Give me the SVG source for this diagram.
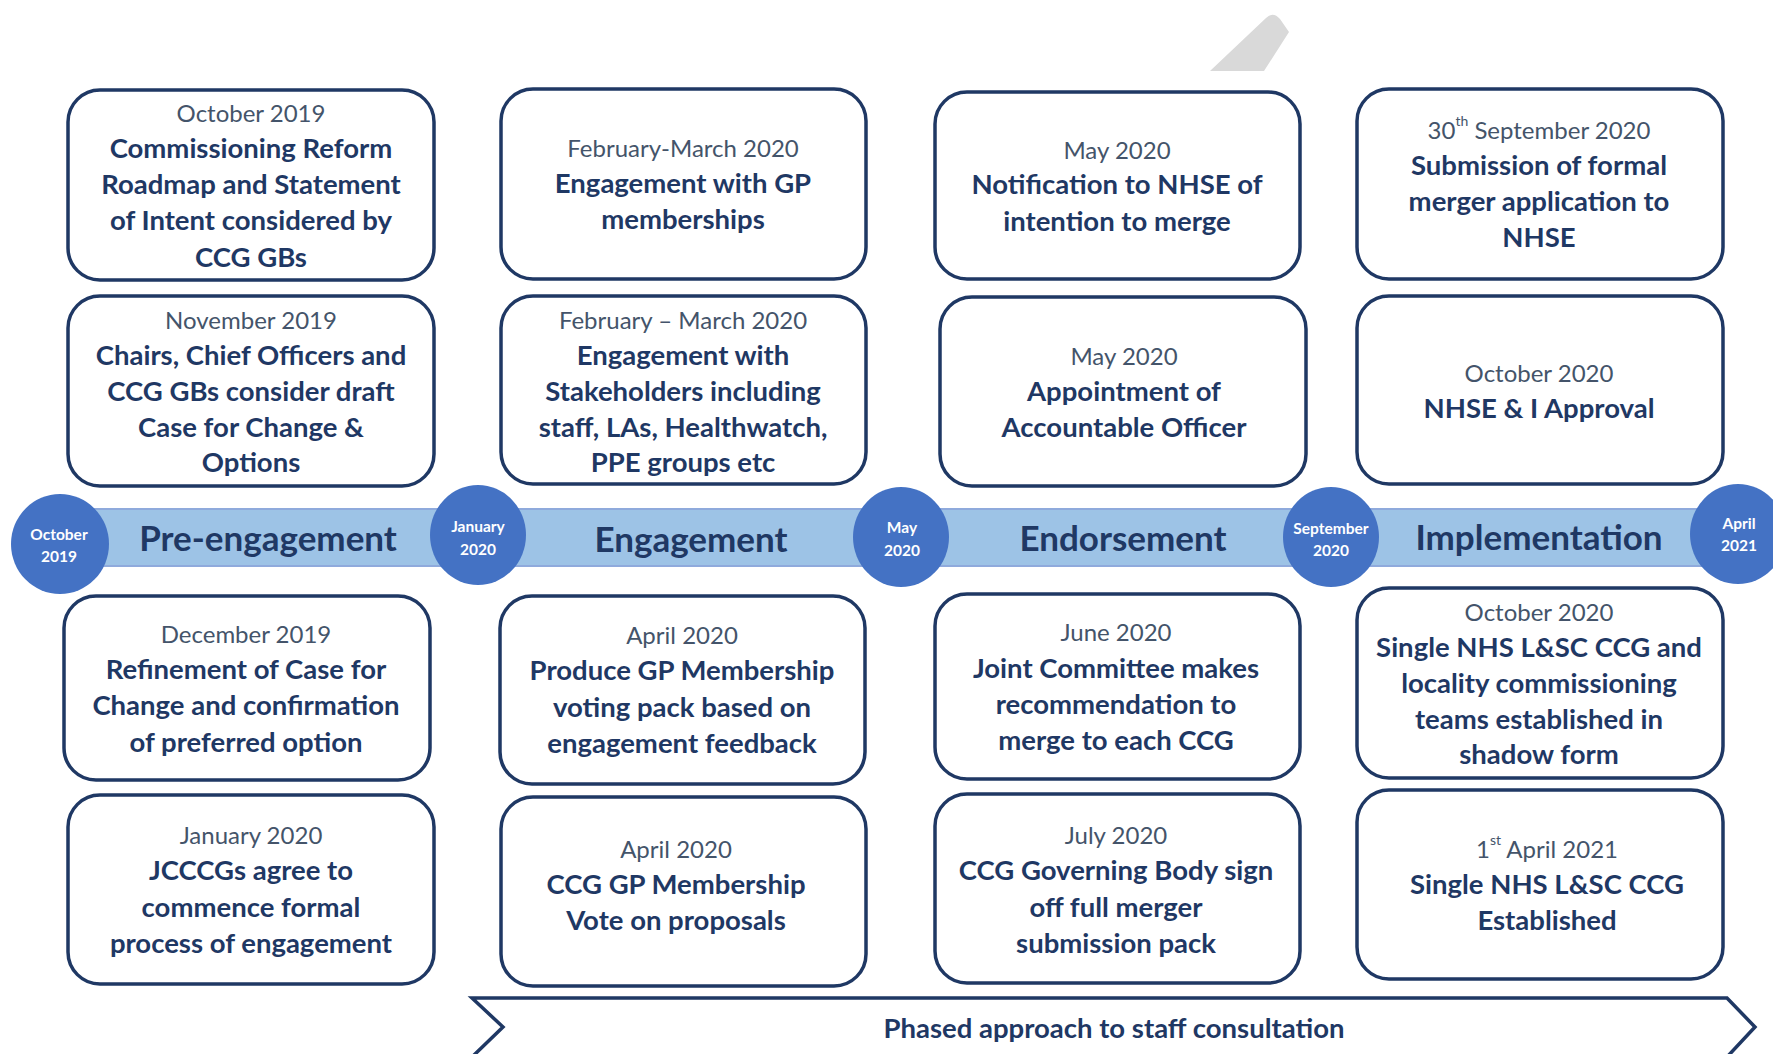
<svg xmlns="http://www.w3.org/2000/svg" width="1773" height="1054" viewBox="0 0 1773 1054">
<style>
.box{fill:#fff;stroke:#1F3864;stroke-width:3.5}
.t{font-family:Lato,"Liberation Sans",sans-serif;text-anchor:middle;dominant-baseline:central}
.d{font-size:24px;fill:#44546A;font-weight:400}
.b{font-size:27.5px;fill:#1F3864;font-weight:700}
.ph{font-size:35px;fill:#1F3864;font-weight:700}
.c{font-size:15.5px;fill:#fff;font-weight:700}
.circ{fill:#4472C4}
</style>
<rect width="1773" height="1054" fill="#fff"/>
<path d="M1210,71 L1266,18 Q1273,11 1280,19 L1289,32 L1264,71 Z" fill="#D9D9D9"/>

<g id="timeline">
<rect x="60" y="509" width="1678" height="57" fill="#9DC3E6" stroke="#8FAADC" stroke-width="2"/>
<text class="t ph" x="268" y="537">Pre-engagement</text>
<text class="t ph" x="691" y="538">Engagement</text>
<text class="t ph" x="1123" y="537">Endorsement</text>
<text class="t ph" x="1539" y="536">Implementation</text>
</g>

<g id="m-oct2019"><ellipse class="circ" cx="60" cy="544" rx="49" ry="50"/><text class="t c" x="59" y="534">October</text><text class="t c" x="59" y="556">2019</text></g>
<g id="m-jan2020"><ellipse class="circ" cx="478" cy="535" rx="48" ry="50"/><text class="t c" x="478" y="526">January</text><text class="t c" x="478" y="549">2020</text></g>
<g id="m-may2020"><ellipse class="circ" cx="901" cy="537" rx="48" ry="50"/><text class="t c" x="902" y="527">May</text><text class="t c" x="902" y="550">2020</text></g>
<g id="m-sep2020"><ellipse class="circ" cx="1331" cy="537" rx="48" ry="50"/><text class="t c" x="1331" y="528">September</text><text class="t c" x="1331" y="550">2020</text></g>
<g id="m-apr2021"><ellipse class="circ" cx="1738" cy="534" rx="48" ry="50"/><text class="t c" x="1739" y="523">April</text><text class="t c" x="1739" y="545">2021</text></g>

<g id="r1c1"><rect class="box" x="68" y="90" width="366" height="190" rx="32"/>
<text class="t d" x="251" y="112">October 2019</text>
<text class="t b" x="251" y="147">Commissioning  Reform</text>
<text class="t b" x="251" y="183">Roadmap and Statement</text>
<text class="t b" x="251" y="219">of Intent considered by</text>
<text class="t b" x="251" y="256">CCG GBs</text></g>

<g id="r1c2"><rect class="box" x="501" y="89" width="365" height="190" rx="32"/>
<text class="t d" x="683" y="147">February-March 2020</text>
<text class="t b" x="683" y="182">Engagement with GP</text>
<text class="t b" x="683" y="218">memberships</text></g>

<g id="r1c3"><rect class="box" x="935" y="92" width="365" height="187" rx="32"/>
<text class="t d" x="1117" y="149">May 2020</text>
<text class="t b" x="1117" y="183">Notification  to NHSE of</text>
<text class="t b" x="1117" y="220">intention to merge</text></g>

<g id="r1c4"><rect class="box" x="1357" y="89" width="366" height="190" rx="32"/>
<text class="t d" x="1539" y="129">30<tspan font-size="14" baseline-shift="super">th</tspan> September 2020</text>
<text class="t b" x="1539" y="164">Submission  of formal</text>
<text class="t b" x="1539" y="200">merger application  to</text>
<text class="t b" x="1539" y="236">NHSE</text></g>

<g id="r2c1"><rect class="box" x="68" y="296" width="366" height="190" rx="32"/>
<text class="t d" x="251" y="319">November 2019</text>
<text class="t b" x="251" y="354">Chairs, Chief Officers and</text>
<text class="t b" x="251" y="390">CCG GBs consider draft</text>
<text class="t b" x="251" y="426">Case for Change &amp;</text>
<text class="t b" x="251" y="461">Options</text></g>

<g id="r2c2"><rect class="box" x="501" y="296" width="365" height="188" rx="32"/>
<text class="t d" x="683" y="319">February – March 2020</text>
<text class="t b" x="683" y="354">Engagement with</text>
<text class="t b" x="683" y="390">Stakeholders including</text>
<text class="t b" x="683" y="426">staff, LAs, Healthwatch,</text>
<text class="t b" x="683" y="461">PPE groups etc</text></g>

<g id="r2c3"><rect class="box" x="940" y="297" width="366" height="189" rx="32"/>
<text class="t d" x="1124" y="355">May 2020</text>
<text class="t b" x="1124" y="390">Appointment  of</text>
<text class="t b" x="1124" y="426">Accountable  Officer</text></g>

<g id="r2c4"><rect class="box" x="1357" y="296" width="366" height="188" rx="32"/>
<text class="t d" x="1539" y="372">October 2020</text>
<text class="t b" x="1539" y="407">NHSE &amp; I Approval</text></g>

<g id="r3c1"><rect class="box" x="64" y="596" width="366" height="184" rx="32"/>
<text class="t d" x="246" y="633">December 2019</text>
<text class="t b" x="246" y="668">Refinement of Case for</text>
<text class="t b" x="246" y="704">Change and confirmation</text>
<text class="t b" x="246" y="741">of preferred option</text></g>

<g id="r3c2"><rect class="box" x="500" y="596" width="365" height="188" rx="32"/>
<text class="t d" x="682" y="634">April 2020</text>
<text class="t b" x="682" y="669">Produce GP Membership</text>
<text class="t b" x="682" y="706">voting pack based on</text>
<text class="t b" x="682" y="742">engagement feedback</text></g>

<g id="r3c3"><rect class="box" x="935" y="594" width="365" height="185" rx="32"/>
<text class="t d" x="1116" y="631">June 2020</text>
<text class="t b" x="1116" y="667">Joint Committee makes</text>
<text class="t b" x="1116" y="703">recommendation  to</text>
<text class="t b" x="1116" y="739">merge to each CCG</text></g>

<g id="r3c4"><rect class="box" x="1357" y="588" width="366" height="190" rx="32"/>
<text class="t d" x="1539" y="611">October 2020</text>
<text class="t b" x="1539" y="646">Single NHS L&amp;SC CCG and</text>
<text class="t b" x="1539" y="682">locality commissioning</text>
<text class="t b" x="1539" y="718">teams established in</text>
<text class="t b" x="1539" y="753">shadow form</text></g>

<g id="r4c1"><rect class="box" x="68" y="795" width="366" height="189" rx="32"/>
<text class="t d" x="251" y="834">January 2020</text>
<text class="t b" x="251" y="869">JCCCGs agree to</text>
<text class="t b" x="251" y="906">commence formal</text>
<text class="t b" x="251" y="942">process of engagement</text></g>

<g id="r4c2"><rect class="box" x="501" y="797" width="365" height="189" rx="32"/>
<text class="t d" x="676" y="848">April 2020</text>
<text class="t b" x="676" y="883">CCG GP Membership</text>
<text class="t b" x="676" y="919">Vote on proposals</text></g>

<g id="r4c3"><rect class="box" x="935" y="794" width="365" height="189" rx="32"/>
<text class="t d" x="1116" y="834">July 2020</text>
<text class="t b" x="1116" y="869">CCG Governing  Body sign</text>
<text class="t b" x="1116" y="906">off full merger</text>
<text class="t b" x="1116" y="942">submission  pack</text></g>

<g id="r4c4"><rect class="box" x="1357" y="790" width="366" height="189" rx="32"/>
<text class="t d" x="1547" y="848">1<tspan font-size="14" baseline-shift="super">st</tspan> April 2021</text>
<text class="t b" x="1547" y="883">Single NHS L&amp;SC CCG</text>
<text class="t b" x="1547" y="919">Established</text></g>

<g id="consultation">
<path d="M472,998 L1727,998 L1755,1027 L1727,1057 L472,1057 L503,1027 Z" fill="#fff" stroke="#1F3864" stroke-width="3.5"/>
<text class="t b" x="1114" y="1027">Phased approach  to staff consultation</text>
</g>
</svg>
